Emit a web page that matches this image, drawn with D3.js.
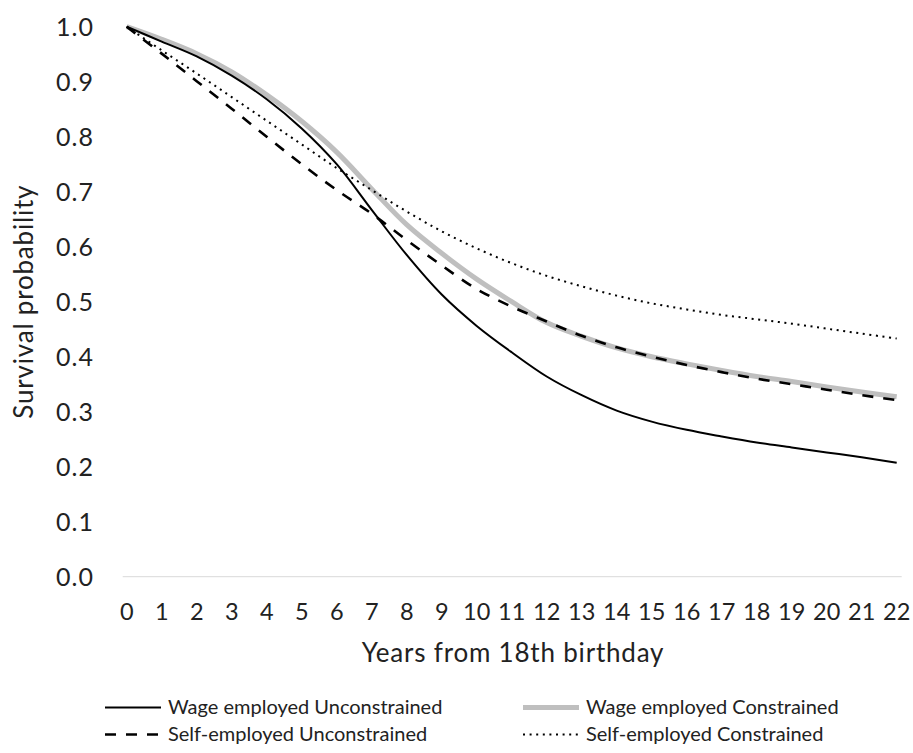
<!DOCTYPE html>
<html>
<head>
<meta charset="utf-8">
<script src="https://cdn.jsdelivr.net/npm/d3@7"></script>
<style>
  body { margin: 0; background: #fff; }
  text { font-family: Lato, "Open Sans", sans-serif; fill: #222; }
</style>
</head>
<body>
<div id="chart"></div>
<script>
// years from 18th birthday
var years = [0, 1, 2, 3, 4, 5, 6, 7, 8, 9, 10, 11, 12, 13, 14, 15, 16, 17, 18, 19, 20, 21, 22];
var yTicks = [0, 0.1, 0.2, 0.3, 0.4, 0.5, 0.6, 0.7, 0.8, 0.9, 1.0];

// survival probability per series
var wageUnconstrained = [1.000, 0.973, 0.946, 0.911, 0.868, 0.815, 0.750, 0.667, 0.585, 0.513, 0.456, 0.408,
                         0.364, 0.330, 0.302, 0.282, 0.267, 0.255, 0.244, 0.235, 0.226, 0.217, 0.207];
var wageConstrained   = [1.000, 0.977, 0.951, 0.918, 0.876, 0.828, 0.772, 0.705, 0.640, 0.588, 0.541, 0.500,
                         0.462, 0.437, 0.416, 0.400, 0.387, 0.375, 0.364, 0.355, 0.345, 0.336, 0.327];
var selfUnconstrained = [1.000, 0.951, 0.901, 0.851, 0.800, 0.750, 0.703, 0.660, 0.612, 0.566, 0.523, 0.491,
                         0.464, 0.438, 0.417, 0.400, 0.385, 0.372, 0.360, 0.350, 0.340, 0.330, 0.321];
var selfConstrained   = [1.000, 0.957, 0.915, 0.872, 0.829, 0.786, 0.743, 0.703, 0.664, 0.628, 0.597, 0.570,
                         0.547, 0.528, 0.511, 0.497, 0.486, 0.476, 0.468, 0.460, 0.451, 0.442, 0.433];

var seriesNames = ["Wage employed Unconstrained", "Wage employed Constrained",
                   "Self-employed Unconstrained", "Self-employed Constrained"];

var w = 913, h = 753;

var x = d3.scaleLinear().domain([0, 22]).range([126.7, 896.7]);
var y = d3.scaleLinear().domain([0, 1]).range([576.7, 26.7]);

var svg = d3.select("#chart").append("svg").attr("width", w).attr("height", h);

// line styles (grey one drawn first so the black lines sit on top)
var styles = [
    { name: seriesNames[1], data: wageConstrained,   stroke: "#bfbfbf", width: 5,   dash: null },
    { name: seriesNames[0], data: wageUnconstrained, stroke: "#000",    width: 2,   dash: null },
    { name: seriesNames[2], data: selfUnconstrained, stroke: "#000",    width: 2.6, dash: "11,10" },
    { name: seriesNames[3], data: selfConstrained,   stroke: "#000",    width: 2,   dash: "2,4.6" }
];

// horizontal axis line
svg.append("line")
    .attr("x1", x(0) - 4).attr("x2", x(22) + 5)
    .attr("y1", y(0)).attr("y2", y(0))
    .attr("stroke", "#d9d9d9").attr("stroke-width", 1);

// y tick labels
svg.selectAll(".ylab").data(yTicks).enter().append("text")
    .attr("x", 94).attr("y", function (d) { return y(d) + 9; })
    .attr("text-anchor", "end").attr("font-size", 25)
    .attr("letter-spacing", 1)
    .text(d3.format(".1f"));

// x tick labels
svg.selectAll(".xlab").data(years).enter().append("text")
    .attr("x", x).attr("y", 619.5)
    .attr("text-anchor", "middle").attr("font-size", 23.5)
    .text(function (d) { return d; });

// axis titles
svg.append("text").attr("x", 513).attr("y", 662)
    .attr("text-anchor", "middle").attr("font-size", 26)
    .attr("letter-spacing", 0.8)
    .text("Years from 18th birthday");
svg.append("text")
    .attr("transform", "translate(33," + ((y(0) + y(1)) / 2) + ") rotate(-90)")
    .attr("text-anchor", "middle").attr("font-size", 26)
    .attr("letter-spacing", 0.8)
    .text("Survival probability");

var line = d3.line()
    .x(function (d, i) { return x(years[i]); })
    .y(function (d) { return y(d); })
    .curve(d3.curveCatmullRom);

styles.forEach(function (s) {
    svg.append("path")
        .attr("d", line(s.data))
        .attr("fill", "none")
        .attr("stroke", s.stroke)
        .attr("stroke-width", s.width)
        .attr("stroke-dasharray", s.dash)
        .attr("stroke-linejoin", "round");
});

// legend, two columns x two rows
var legendPos = [
    { i: 1, lx: 105, ly: 707.5 },
    { i: 0, lx: 523, ly: 707.5 },
    { i: 2, lx: 105, ly: 734.5 },
    { i: 3, lx: 523, ly: 734.5 }
];
legendPos.forEach(function (p) {
    var s = styles[p.i];
    svg.append("line")
        .attr("x1", p.lx).attr("x2", p.lx + 56)
        .attr("y1", p.ly).attr("y2", p.ly)
        .attr("stroke", s.stroke).attr("stroke-width", s.width)
        .attr("stroke-dasharray", s.dash);
    svg.append("text")
        .attr("x", p.lx + 63).attr("y", p.ly + 6.5)
        .attr("font-size", 20)
        .text(s.name);
});
</script>
</body>
</html>
